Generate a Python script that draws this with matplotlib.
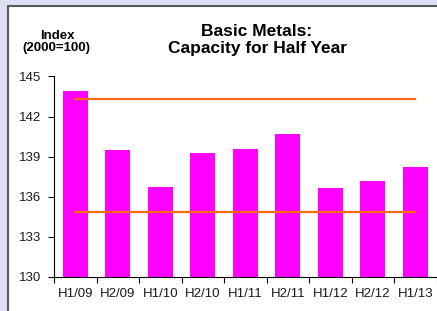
import matplotlib
matplotlib.use("Agg")
import matplotlib.pyplot as plt
from matplotlib.patches import Rectangle

categories = ["H1/09", "H2/09", "H1/10", "H2/10", "H1/11", "H2/11", "H1/12", "H2/12", "H1/13"]
values = [143.9, 139.5, 136.7, 139.3, 139.55, 140.7, 136.65, 137.2, 138.2]
upper_line = 143.3
lower_line = 134.9
yticks = [130, 133, 136, 139, 142, 145]

plt.rcParams['font.family'] = ['Liberation Sans', 'DejaVu Sans']

W, H = 437, 311
fig = plt.figure(figsize=(W / 100, H / 100), dpi=100)
fig.patch.set_facecolor('#dedef4')

# white panel with border
fig.patches.append(Rectangle((8 / W, -0.05), 1.2, (1 - 6 / H) + 0.05, transform=fig.transFigure,
                             facecolor='white', edgecolor='#5a5a5a', linewidth=1.5, zorder=-5))

ax = fig.add_axes([54 / W, 1 - 277 / H, (436.5 - 54) / W, (277 - 76.5) / H])
ax.set_zorder(2)
ax.set_facecolor('none')
x = list(range(len(categories)))
ax.bar(x, values, width=0.59, color='#ff00ff', zorder=2)
ax.plot([x[0], x[-1]], [upper_line, upper_line], color='#ff6a13', lw=1.6, zorder=3)
ax.plot([x[0], x[-1]], [lower_line, lower_line], color='#ff6a13', lw=1.6, zorder=3)

ax.set_ylim(130, 145)
ax.set_xlim(-0.5, len(categories) - 0.5)
ax.set_yticks(yticks)
ax.set_xticks(x)
ax.set_xticklabels(categories)
ax.set_xticks([i - 0.5 for i in range(len(categories) + 1)], minor=True)
ax.tick_params(axis='x', which='major', length=0, pad=8, labelsize=9.5, labelcolor='#1a1a1a')
ax.tick_params(axis='x', which='minor', length=4, width=0.8, direction='out', color='black')
ax.tick_params(axis='y', length=4, width=0.8, direction='out', pad=5, labelsize=9.5, labelcolor='#1a1a1a')
for s in ['top', 'right']:
    ax.spines[s].set_visible(False)
for s in ['left', 'bottom']:
    ax.spines[s].set_linewidth(0.8)

fig.text(257 / W, 1 - 31 / H, "Basic Metals:", ha='center', va='center', fontsize=12.5, fontweight='bold')
fig.text(257 / W, 1 - 48 / H, "Capacity for Half Year", ha='center', va='center', fontsize=12.5, fontweight='bold')
fig.text(57 / W, 1 - 36 / H, "Index", ha='center', va='center', fontsize=9.5, fontweight='bold')
fig.text(56.5 / W, 1 - 48 / H, "(2000=100)", ha='center', va='center', fontsize=9.5, fontweight='bold')

fig.savefig("out.png", dpi=100, facecolor=fig.get_facecolor())
